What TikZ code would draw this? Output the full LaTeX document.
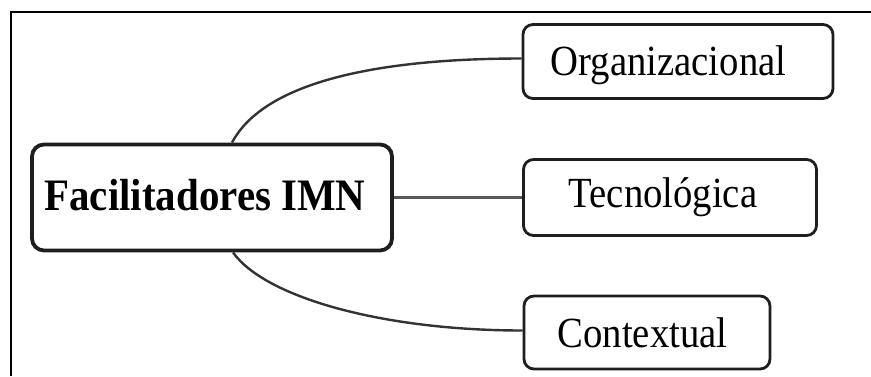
\documentclass[tikz,border=0pt]{standalone}
\usepackage{graphicx}
\usepackage{fontspec}
\setmainfont{Liberation Serif}
\definecolor{boxline}{HTML}{1E1E1E}
\definecolor{curveline}{HTML}{333333}
\definecolor{straightline}{HTML}{585858}
\begin{document}
\begin{tikzpicture}[x=1pt,y=-1pt,
  leafbox/.style={draw=boxline, line width=2.8pt, rounded corners=10pt, fill=white, inner sep=0pt},
  mainbox/.style={leafbox, line width=3.8pt, rounded corners=12pt},
  leaftext/.style={anchor=base, inner sep=0pt, font=\fontsize{43}{43}\selectfont},
  maintext/.style={anchor=base, inner sep=0pt, font=\fontsize{45}{45}\selectfont\bfseries},
  branch/.style={draw=curveline, line width=2.4pt},
  stem/.style={draw=straightline, line width=2.4pt}
]
\useasboundingbox (0,0) rectangle (871,376);

% outer frame (top and left edges)
\draw[line width=2pt] (10.5,376) -- (10.5,12) -- (871,12);

% boxes
\node[mainbox, minimum width=360pt, minimum height=106pt] (m) at (212,197.5) {};
\node[leafbox, minimum width=310pt, minimum height=74pt] (org) at (678,61.5) {};
\node[leafbox, minimum width=293pt, minimum height=76pt] (tec) at (670,197.5) {};
\node[leafbox, minimum width=246pt, minimum height=73pt] (con) at (647,332.5) {};

% texts
\node[maintext] (mt) at (205,210) {\scalebox{0.91}[1]{Facilitadores IMN}};
\node[leaftext] (ot) at (668.5,75) {\scalebox{0.9}[1]{Organizacional}};
\node[leaftext] (tt) at (663,207) {\scalebox{0.9}[1]{Tecnológica}};
\node[leaftext] (ct) at (642.5,347) {\scalebox{0.9}[1]{Contextual}};

% branch anchors on the central box
\coordinate (mtop) at ([xshift=20pt]m.north);
\coordinate (mbot) at ([xshift=21pt]m.south);

% connectors
\draw[branch] (mtop) .. controls +(33,-62) and +(-140,0) .. ([yshift=3pt]org.west);
\draw[stem] (m.east) -- (tec.west);
\draw[branch] (mbot) .. controls +(32,45) and +(-140,0) .. ([yshift=2pt]con.west);
\end{tikzpicture}
\end{document}
